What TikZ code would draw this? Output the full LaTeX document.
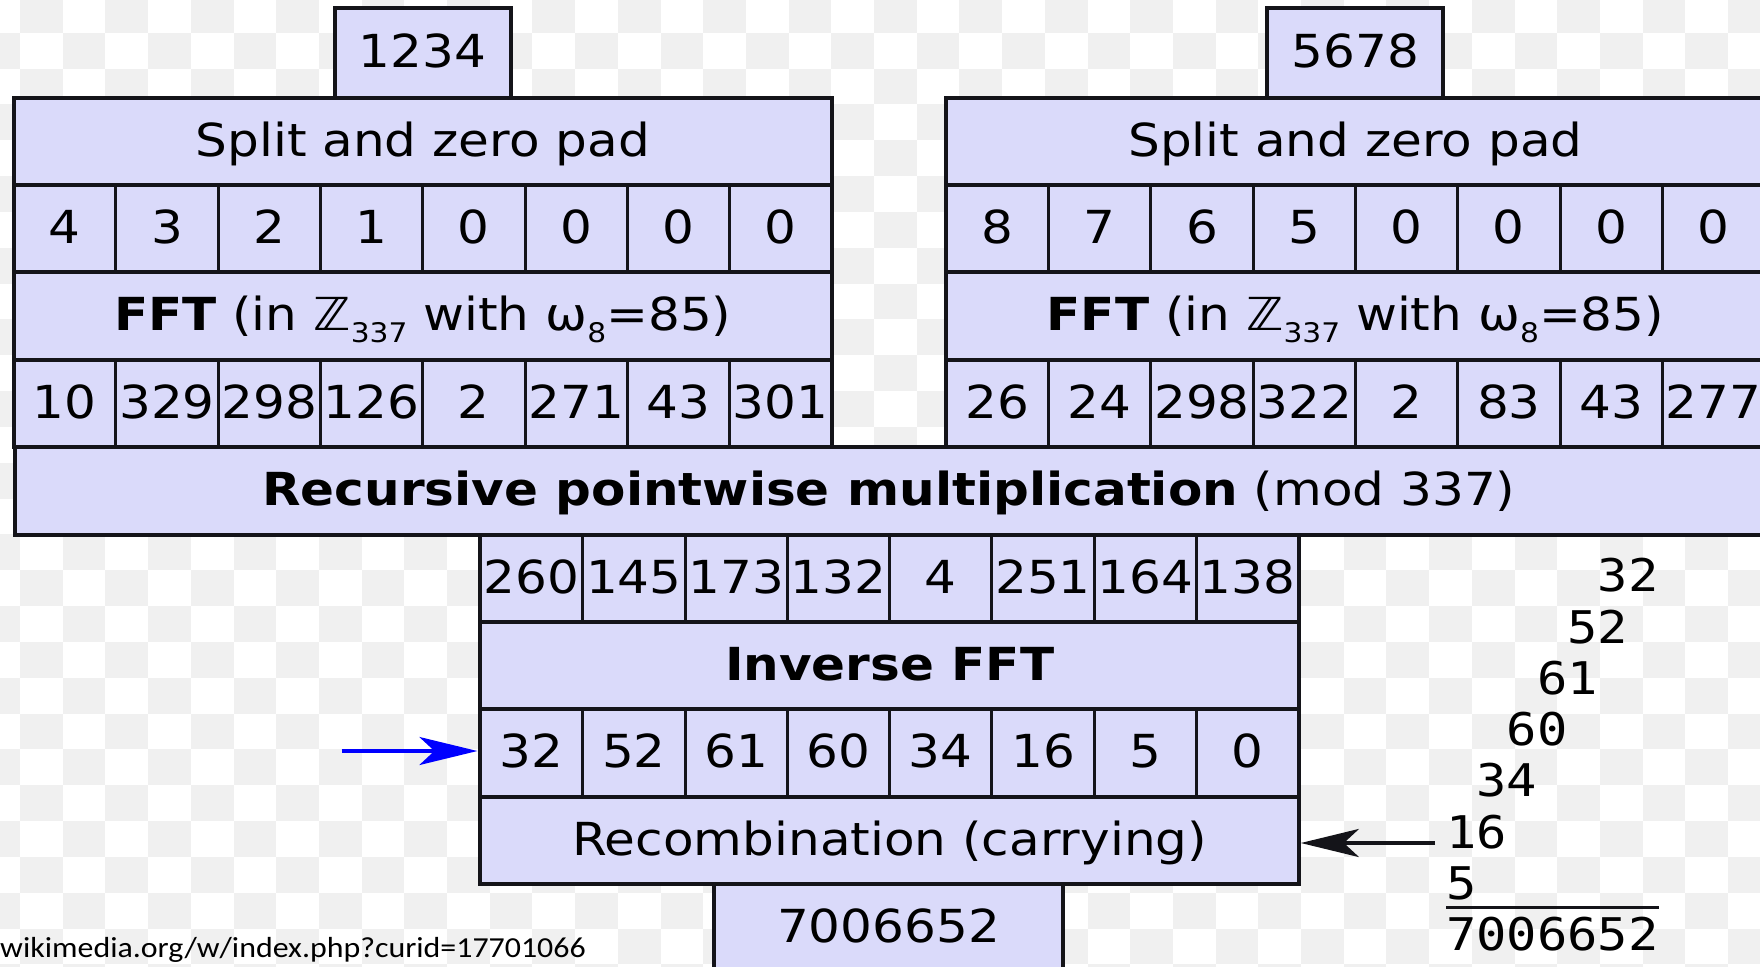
\documentclass[tikz,border=0pt]{standalone}
\usepackage{fontspec}
\setmainfont[FakeStretch=1.1]{DejaVu Sans}
\newfontfamily\monofnt[FakeStretch=1.12]{DejaVu Sans Mono}
\newfontfamily\citefnt[FakeStretch=1.1]{Carlito}
\usetikzlibrary{arrows.meta}
\definecolor{boxfill}{RGB}{218,218,250}
\definecolor{boxline}{RGB}{20,20,25}
\definecolor{checker}{RGB}{240,240,240}
\newcommand\lowsub[1]{\raisebox{-0.26em}{\fontsize{27}{27}\selectfont #1}}
\newcommand\cellrow[4]{%
  \foreach \v [count=\k] in {#4}{%
    \node[cell] (#1\k) at ({#2+102.3*(\k-0.5)},{#3+43.7}) {\v};
  }%
  \draw[frame] (#11.north west) rectangle (#18.south east);
}
\begin{document}
\begin{tikzpicture}[x=1pt,y=-1pt,
  box/.style={draw=boxline, fill=boxfill, line width=4pt, inner sep=0pt, outer sep=0pt,
    text height=33pt, text depth=3.4pt, font=\fontsize{45.5}{50}\selectfont, minimum height=87.4pt},
  cell/.style={box, line width=3pt, minimum width=102.3pt},
  frame/.style={draw=boxline, line width=4pt},
  mono/.style={inner sep=0pt, anchor=base west, font=\monofnt\fontsize{45}{50}\selectfont},
  arrowhead/.style={-{Stealth[length=58pt,width=28pt,inset=15pt]}}
]
\useasboundingbox (0,0) rectangle (1760,966);
\clip (0,0) rectangle (1760,966);
% transparency checkerboard
\foreach \i in {-1,...,41}{%
  \foreach \j in {0,...,27}{%
    \ifodd\numexpr\i+\j+2\relax\else
      \fill[checker] ({20+42.7*\i},{-3+35.83*\j}) rectangle ++(42.7,35.83);
    \fi
  }}
% left operand
\node[box, minimum width=176pt, minimum height=89pt] (Lnum) at (422.5,53) {1234};
\node[box, minimum width=818.5pt] (Lsplit) at (422.75,141.2) {Split and zero pad};
\cellrow{Lc}{13.5}{184.9}{4,3,2,1,0,0,0,0}
\node[box, minimum width=818.5pt] (Lfft) at (422.75,316) {\textbf{FFT} (in ℤ\lowsub{337} with ω\lowsub{8}=85)};
\cellrow{Lv}{13.5}{359.7}{10,329,298,126,2,271,43,301}
% right operand
\node[box, minimum width=176pt, minimum height=89pt] (Rnum) at (1355.2,53) {5678};
\node[box, minimum width=818.5pt] (Rsplit) at (1355.45,141.2) {Split and zero pad};
\cellrow{Rc}{946.2}{184.9}{8,7,6,5,0,0,0,0}
\node[box, minimum width=818.5pt] (Rfft) at (1355.45,316) {\textbf{FFT} (in ℤ\lowsub{337} with ω\lowsub{8}=85)};
\cellrow{Rv}{946.2}{359.7}{26,24,298,322,2,83,43,277}
% middle
\node[box, minimum width=1748pt] (mult) at (889,490.8) {\textbf{Recursive pointwise multiplication} (mod 337)};
\cellrow{P}{480.4}{534.5}{260,145,173,132,4,251,164,138}
\node[box, minimum width=818.4pt] (ifft) at (889.6,665.6) {\textbf{Inverse FFT}};
\cellrow{Q}{480.4}{709.3}{32,52,61,60,34,16,5,0}
\node[box, minimum width=818.4pt] (recomb) at (889.6,840.4) {Recombination (carrying)};
\node[box, minimum width=349pt] (final) at (888.5,927.8) {7006652};
% blue arrow
\coordinate (bstart) at (341.7,751);
\draw[line width=3.5pt, blue, arrowhead, shorten >=3pt] (bstart) -- (bstart -| Q1.west);
% carrying sum
\node[mono] (n32) at (1597.7,591.7) {32};
\node[mono] (n52) at (1567.4,643) {52};
\node[mono] (n61) at (1537,694.3) {61};
\node[mono] (n60) at (1506.7,745.6) {60};
\node[mono] (n34) at (1476.3,796.9) {34};
\node[mono] (n16) at (1446,848.2) {16};
\node[mono] (n5) at (1446,899.5) {5};
\node[mono] (nres) at (1446,950) {7006652};
\draw[line width=3.5pt, boxline] ([yshift=9pt]nres.north west) -- ([yshift=9pt]nres.north east);
\coordinate (kstart) at (1435,843);
\draw[line width=4.5pt, boxline, arrowhead, shorten >=2pt] (kstart) -- (kstart -| recomb.east);
% source
\node[inner sep=0pt, anchor=base west, font=\citefnt\fontsize{29}{30}\selectfont] (cite) at (0,957.5) {wikimedia.org/w/index.php?curid=17701066};
\end{tikzpicture}
\end{document}
